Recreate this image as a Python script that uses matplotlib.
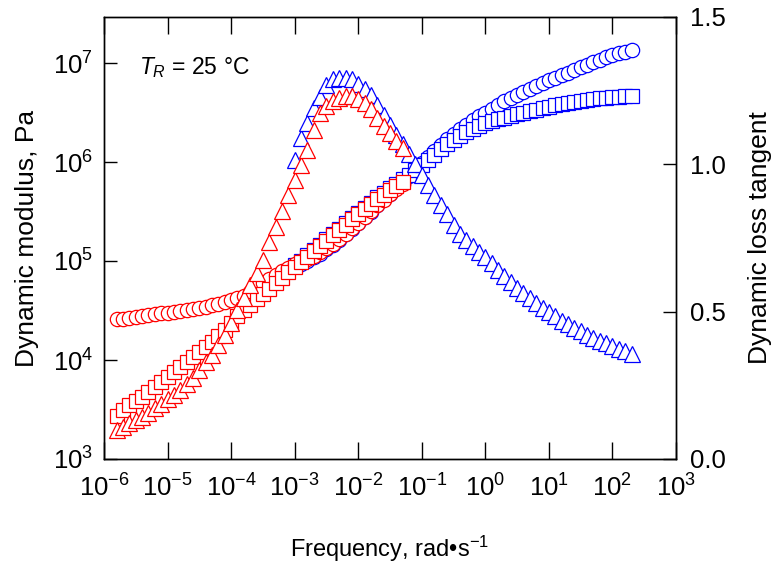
import matplotlib
matplotlib.use("Agg")
import matplotlib.pyplot as plt
import numpy as np

plt.rcParams['font.family'] = ['Liberation Sans', 'DejaVu Sans']
plt.rcParams['mathtext.fontset'] = 'custom'
plt.rcParams['mathtext.rm'] = 'Liberation Sans'
plt.rcParams['mathtext.it'] = 'Liberation Sans:italic'
plt.rcParams['mathtext.default'] = 'regular'

# ---------------- data (log10 of frequency, rad/s) ----------------
red_logf = [-5.8, -5.7, -5.6, -5.5, -5.4, -5.3, -5.2, -5.1, -5.0, -4.9,
            -4.8, -4.7, -4.6, -4.5, -4.4, -4.3, -4.2, -4.1, -4.0, -3.9,
            -3.8, -3.7, -3.6, -3.5, -3.4, -3.3, -3.2, -3.1, -3.0, -2.9,
            -2.8, -2.7, -2.6, -2.5, -2.4, -2.3, -2.2, -2.1, -2.0, -1.9,
            -1.8, -1.7, -1.6, -1.5, -1.4, -1.3]
# log10 G' (Pa)
red_logGp = [4.412, 4.419, 4.428, 4.437, 4.443, 4.452, 4.461, 4.470, 4.477, 4.484,
             4.492, 4.502, 4.513, 4.525, 4.538, 4.552, 4.567, 4.584, 4.603, 4.622,
             4.645, 4.690, 4.735, 4.780, 4.820, 4.860, 4.895, 4.930, 4.965, 4.995,
             5.025, 5.055, 5.090, 5.130, 5.176, 5.222, 5.275, 5.330, 5.383, 5.443,
             5.501, 5.567, 5.617, 5.672, 5.727, 5.777]
# log10 G'' (Pa)
red_logGpp = [3.435, 3.496, 3.545, 3.590, 3.630, 3.678, 3.729, 3.779, 3.830, 3.881,
              3.931, 3.982, 4.032, 4.083, 4.134, 4.184, 4.240, 4.300, 4.370, 4.440,
              4.505, 4.560, 4.615, 4.670, 4.720, 4.775, 4.830, 4.885, 4.940, 4.990,
              5.045, 5.100, 5.150, 5.205, 5.260, 5.310, 5.365, 5.420, 5.470, 5.525,
              5.575, 5.630, 5.670, 5.715, 5.760, 5.800]
red_tan = [0.098, 0.109, 0.122, 0.132, 0.143, 0.156, 0.173, 0.187, 0.203, 0.217,
           0.234, 0.254, 0.275, 0.302, 0.329, 0.353, 0.387, 0.420, 0.462, 0.505,
           0.547, 0.590, 0.632, 0.675, 0.735, 0.787, 0.841, 0.895, 0.946, 0.997,
           1.048, 1.116, 1.173, 1.197, 1.214, 1.224, 1.231, 1.231, 1.221, 1.207,
           1.187, 1.156, 1.129, 1.105, 1.078, 1.055]

blue_logf = [-3.0, -2.9, -2.8, -2.7, -2.6, -2.5, -2.4, -2.3, -2.2, -2.1,
             -2.0, -1.9, -1.8, -1.7, -1.6, -1.5, -1.4, -1.3, -1.2, -1.1,
             -1.0, -0.9, -0.8, -0.7, -0.6, -0.5, -0.4, -0.3, -0.2, -0.1,
             0.0, 0.1, 0.2, 0.3, 0.4, 0.5, 0.6, 0.7, 0.8, 0.9,
             1.0, 1.1, 1.2, 1.3, 1.4, 1.5, 1.6, 1.7, 1.8, 1.9,
             2.0, 2.1, 2.2, 2.3]
blue_logGp = [4.949, 4.968, 5.004, 5.040, 5.075, 5.117, 5.164, 5.214, 5.269, 5.324,
              5.380, 5.441, 5.498, 5.566, 5.623, 5.680, 5.739, 5.796, 5.855, 5.920,
              5.985, 6.050, 6.115, 6.175, 6.230, 6.280, 6.330, 6.375, 6.420, 6.460,
              6.500, 6.540, 6.578, 6.613, 6.647, 6.680, 6.712, 6.742, 6.771, 6.798,
              6.825, 6.851, 6.877, 6.903, 6.930, 6.957, 6.984, 7.010, 7.035, 7.058,
              7.080, 7.098, 7.114, 7.128]
blue_logGpp = [4.955, 5.005, 5.060, 5.115, 5.165, 5.220, 5.275, 5.325, 5.380, 5.435,
               5.485, 5.540, 5.590, 5.645, 5.690, 5.735, 5.780, 5.825, 5.870, 5.920,
               5.970, 6.020, 6.075, 6.130, 6.180, 6.225, 6.265, 6.300, 6.335, 6.365,
               6.390, 6.410, 6.430, 6.448, 6.466, 6.483, 6.500, 6.516, 6.530, 6.545,
               6.558, 6.572, 6.585, 6.597, 6.607, 6.617, 6.626, 6.635, 6.643, 6.650,
               6.655, 6.659, 6.662, 6.664]
blue_tan = [1.015, 1.088, 1.139, 1.190, 1.230, 1.268, 1.290, 1.292, 1.292, 1.290,
            1.272, 1.255, 1.235, 1.200, 1.167, 1.134, 1.100, 1.068, 1.034, 1.000,
            0.965, 0.930, 0.895, 0.862, 0.830, 0.795, 0.765, 0.743, 0.722, 0.703,
            0.684, 0.664, 0.642, 0.620, 0.600, 0.581, 0.563, 0.545, 0.529, 0.513,
            0.498, 0.484, 0.470, 0.457, 0.445, 0.433, 0.422, 0.411, 0.401, 0.392,
            0.383, 0.374, 0.366, 0.358]

x_ticks = [1e-6, 1e-5, 1e-4, 1e-3, 1e-2, 1e-1, 1e0, 1e1, 1e2, 1e3]
x_ticklabels = [r'$10^{-6}$', r'$10^{-5}$', r'$10^{-4}$', r'$10^{-3}$', r'$10^{-2}$',
                r'$10^{-1}$', r'$10^{0}$', r'$10^{1}$', r'$10^{2}$', r'$10^{3}$']
y_ticks = [1e3, 1e4, 1e5, 1e6, 1e7]
y_ticklabels = [r'$10^{3}$', r'$10^{4}$', r'$10^{5}$', r'$10^{6}$', r'$10^{7}$']
y2_ticks = [0.0, 0.5, 1.0, 1.5]
y2_ticklabels = ['0.0', '0.5', '1.0', '1.5']

RED = '#ff0000'
BLUE = '#0000ff'

fig = plt.figure(figsize=(7.76, 5.64), dpi=100)
ax = fig.add_axes([104 / 776, 1 - 459 / 564, 572 / 776, 442 / 564])
ax2 = ax.twinx()

def pw(v):
    return 10.0 ** np.asarray(v)

mk = dict(mfc='white', mew=0.9, ls='none')
ax.plot(pw(blue_logf), pw(blue_logGp), marker='o', ms=10.3, mec=BLUE, **mk)
ax.plot(pw(blue_logf), pw(blue_logGpp), marker='s', ms=10.0, mec=BLUE, **mk)
ax.plot(pw(red_logf), pw(red_logGp), marker='o', ms=10.3, mec=RED, **mk)
ax.plot(pw(red_logf), pw(red_logGpp), marker='s', ms=10.0, mec=RED, **mk)
ax2.plot(pw(blue_logf), blue_tan, marker='^', ms=11.0, mec=BLUE, **mk)
ax2.plot(pw(red_logf), red_tan, marker='^', ms=11.0, mec=RED, **mk)

ax.set_xscale('log')
ax.set_yscale('log')
ax.set_xlim(1e-6, 1e3)
ax.set_ylim(1e3, 10 ** (3 + 442 / 99))
ax2.set_ylim(0, 1.5)

ax.xaxis.set_minor_locator(matplotlib.ticker.NullLocator())
ax.yaxis.set_minor_locator(matplotlib.ticker.NullLocator())
ax.set_xticks(x_ticks)
ax.set_xticklabels(x_ticklabels)
ax.set_yticks(y_ticks)
ax.set_yticklabels(y_ticklabels)
ax2.set_yticks(y2_ticks)
ax2.set_yticklabels(y2_ticklabels)

ax.tick_params(axis='x', which='major', direction='in', length=12.5, width=1.0,
               top=True, labelsize=18.5, pad=11)
ax.tick_params(axis='y', which='major', direction='in', length=9.5, width=1.0,
               labelsize=18.5, pad=8)
ax2.tick_params(axis='y', which='major', direction='in', length=9.5, width=1.0,
                labelsize=18.5, pad=10)
for a in (ax, ax2):
    for s in a.spines.values():
        s.set_linewidth(1.0)

ax.set_xlabel('Frequency, rad\u2022s$^{\u2212 1}$', fontsize=17, labelpad=23)
ax.set_ylabel('Dynamic modulus, Pa', fontsize=19, labelpad=10)
ax2.set_ylabel('Dynamic loss tangent', fontsize=19, labelpad=16)

ax.text(0.062, 0.885, '$\\mathit{T}_{\\mathit{R}}$ = 25 \u00b0C', transform=ax.transAxes,
        fontsize=16.5, ha='left', va='center')

fig.savefig('out.png', dpi=100)
